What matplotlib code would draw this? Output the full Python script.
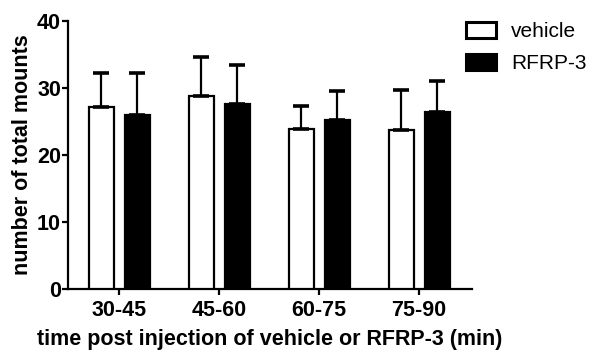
import matplotlib
matplotlib.use("Agg")
import matplotlib.pyplot as plt
from matplotlib.patches import Patch
import numpy as np

# data
groups = ["30-45", "45-60", "60-75", "75-90"]
vehicle_mean = [27.1, 28.8, 23.9, 23.8]
vehicle_err = [5.2, 5.8, 3.4, 5.9]
rfrp_mean = [25.9, 27.6, 25.2, 26.4]
rfrp_err = [6.4, 5.8, 4.3, 4.7]

plt.rcParams["font.family"] = ["Liberation Sans", "DejaVu Sans"]

fig = plt.figure(figsize=(5.91, 3.54), dpi=100)
ax = fig.add_axes([68 / 591, 1 - 289 / 354, 404 / 591, 268 / 354])

x = np.arange(len(groups))
w = 0.25
off = 0.18

err_kw = dict(ecolor="black", elinewidth=1.6, capsize=5.5, capthick=2.6)
ax.bar(x - off, vehicle_mean, w, color="white", edgecolor="black", linewidth=1.6,
       yerr=[np.zeros(4), vehicle_err], error_kw=err_kw, zorder=3)
ax.bar(x + off, rfrp_mean, w, color="black", edgecolor="black", linewidth=1.6,
       yerr=[np.zeros(4), rfrp_err], error_kw=err_kw, zorder=3)

ax.set_xlim(-0.51, 3.53)
ax.set_ylim(0, 40)
ax.set_yticks([0, 10, 20, 30, 40])
ax.set_xticks(x)
ax.set_xticklabels(groups)

for s in ["top", "right"]:
    ax.spines[s].set_visible(False)
for s in ["left", "bottom"]:
    ax.spines[s].set_linewidth(1.6)
ax.tick_params(width=1.6, length=4.5, labelsize=15.5)
ax.tick_params(axis="x", pad=3.5)
ax.tick_params(axis="y", pad=0.5)
for lbl in ax.get_xticklabels() + ax.get_yticklabels():
    lbl.set_fontweight("bold")

ax.set_xlabel("time post injection of vehicle or RFRP-3 (min)", fontsize=15.5,
              fontweight="bold", labelpad=6)
ax.set_ylabel("number of total mounts", fontsize=15.5, fontweight="bold", labelpad=3)

handles = [Patch(facecolor="white", edgecolor="black", linewidth=2.2),
           Patch(facecolor="black", edgecolor="black", linewidth=2.2)]
fig.legend(handles, ["vehicle", "RFRP-3"], loc="upper left",
           bbox_to_anchor=(466 / 591, 1 - 22 / 354), frameon=False, fontsize=15,
           handlelength=1.45, handleheight=0.8, handletextpad=0.7,
           labelspacing=0.62, borderpad=0, borderaxespad=0)

fig.savefig("out.png", dpi=100)
